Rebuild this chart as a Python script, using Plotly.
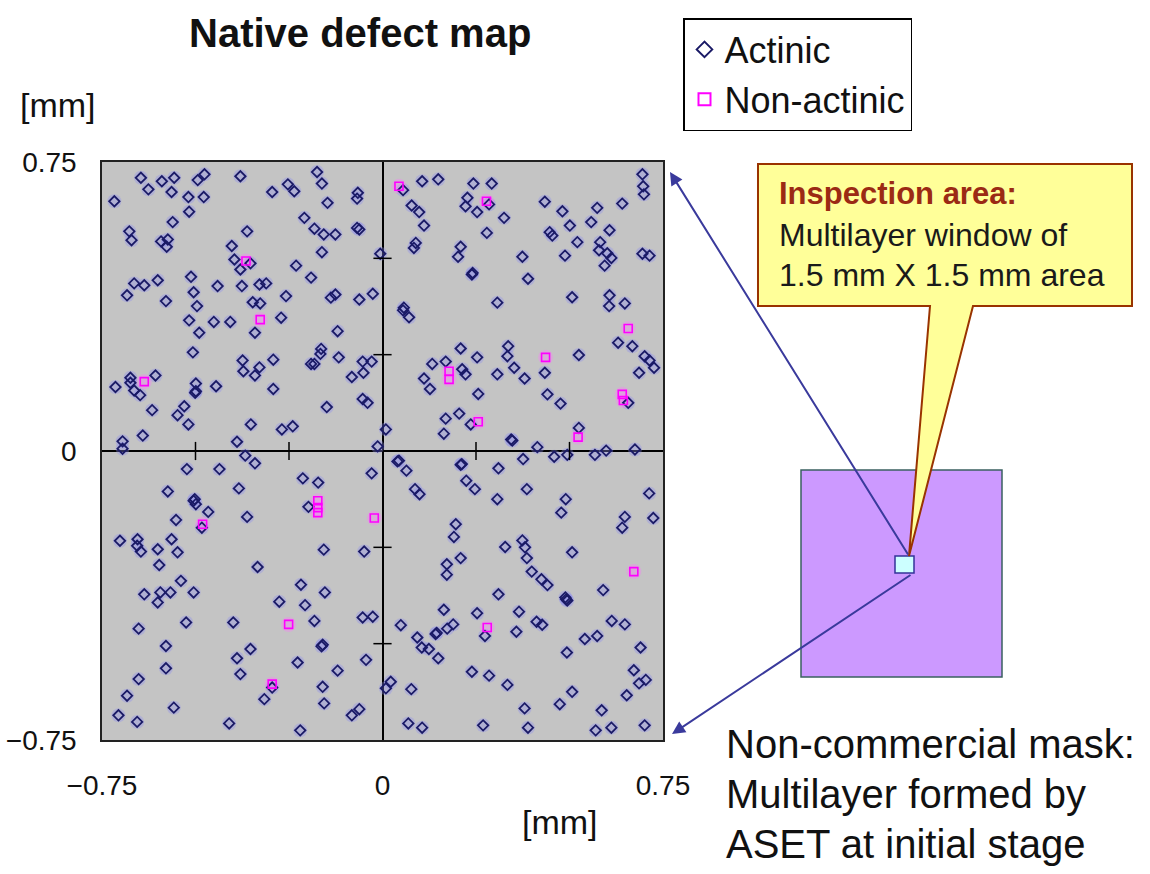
import plotly.graph_objects as go

# Defect positions on the 1.5 mm x 1.5 mm multilayer window, in mm
actinic_x = [
    -0.717, -0.646, -0.626, -0.590, -0.557, -0.564, -0.494, -0.476, -0.519, -0.478,
    -0.517, -0.380, -0.561, -0.677, -0.671, -0.592, -0.574, -0.577, -0.362, -0.403,
    -0.396, -0.380, -0.353, -0.295, -0.253, -0.236, -0.175, -0.162, -0.147, -0.066,
    -0.068, -0.209, -0.182, -0.157, -0.126, -0.068, -0.062, -0.162, -0.006, -0.231,
    -0.191, -0.664, -0.637, -0.601, -0.683, -0.579, -0.512, -0.505, -0.496, -0.441,
    -0.376, -0.329, -0.311, -0.347, -0.327, -0.258, -0.138, -0.126, -0.062, -0.026,
    -0.517, -0.451, -0.407, -0.271, -0.490, -0.341, -0.120, -0.507, -0.374, -0.372,
    -0.329, -0.341, -0.292, -0.164, -0.166, -0.182, -0.191, -0.117, -0.053, -0.029,
    -0.051, -0.082, -0.607, -0.674, -0.674, -0.664, -0.648, -0.714, -0.499, -0.501,
    -0.499, -0.445, -0.292, -0.616, -0.530, -0.548, -0.519, -0.352, -0.269, -0.240,
    -0.149, -0.053, -0.040, -0.641, -0.695, -0.695, -0.389, -0.013,
    0.055, 0.106, 0.149, 0.243, 0.292, 0.227, 0.222, 0.285, 0.253, 0.325,
    0.078, 0.098, 0.111, 0.279, 0.089, 0.084, 0.209, 0.202, 0.239, 0.241,
    0.374, 0.389, 0.307, 0.057, 0.434, 0.481, 0.501, 0.447, 0.454, 0.521,
    0.488, 0.558, 0.574, 0.607, 0.641, 0.582, 0.579, 0.601, 0.612, 0.594,
    0.695, 0.697, 0.699, 0.695, 0.714, 0.507, 0.607, 0.606, 0.648, 0.055,
    0.071, 0.630, 0.668, 0.701, 0.714, 0.726, 0.686, 0.209, 0.336, 0.334,
    0.253, 0.525, 0.133, 0.169, 0.213, 0.222, 0.111, 0.127, 0.307, 0.352,
    0.380, 0.434, 0.256, 0.441, 0.476, 0.657, 0.169, 0.205, 0.236, 0.164,
    0.009, 0.344, 0.347, 0.414, 0.525, 0.598, 0.675,
    -0.367, -0.341, -0.523, -0.436, -0.574, -0.505, -0.502, -0.499, -0.384, -0.466,
    -0.483, -0.552, -0.362, -0.213, -0.172, -0.198, -0.029, -0.702, -0.655, -0.656,
    -0.646, -0.564, -0.601, -0.548, -0.597, -0.334, -0.157, -0.049, -0.539, -0.637,
    -0.594, -0.567, -0.505, -0.218, -0.154, -0.601, -0.276, -0.207, -0.182, -0.053,
    -0.026, -0.652, -0.525, -0.399, -0.579, -0.353, -0.389, -0.163, -0.160, -0.227,
    -0.044, -0.120, -0.579, -0.380, -0.652, -0.295, -0.316, -0.160, -0.156, -0.683,
    -0.558, -0.706, -0.656, -0.410, -0.220, -0.082, -0.062,
    0.376, 0.459, 0.494, 0.568, 0.040, 0.044, 0.064, 0.209, 0.212, 0.310,
    0.224, 0.247, 0.087, 0.099, 0.386, 0.307, 0.490, 0.478, 0.713, 0.724,
    0.648, 0.641, 0.196, 0.191, 0.374, 0.381, 0.386, 0.328, 0.507, 0.209,
    0.172, 0.172, 0.399, 0.425, 0.441, 0.590, 0.310, 0.491, 0.489, 0.494,
    0.164, 0.253, 0.365, 0.049, 0.093, 0.142, 0.145, 0.173, 0.189, 0.274,
    0.358, 0.412, 0.427, 0.613, 0.648, 0.541, 0.574, 0.105, 0.124, 0.149,
    0.493, 0.690, 0.239, 0.285, 0.334, 0.672, 0.686, 0.704, 0.653, 0.507,
    0.474, 0.586, 0.380, 0.022, 0.009, 0.077, 0.069, 0.106, 0.269, 0.389,
    0.570, 0.612, 0.701,
]
actinic_y = [
    0.648, 0.709, 0.679, 0.700, 0.709, 0.672, 0.703, 0.718, 0.659, 0.659,
    0.621, 0.713, 0.594, 0.570, 0.547, 0.544, 0.549, 0.530, 0.570, 0.532,
    0.497, 0.471, 0.487, 0.672, 0.692, 0.674, 0.724, 0.694, 0.644, 0.670,
    0.655, 0.605, 0.577, 0.562, 0.562, 0.579, 0.575, 0.516, 0.512, 0.481,
    0.450, 0.435, 0.430, 0.443, 0.404, 0.389, 0.452, 0.412, 0.376, 0.428,
    0.428, 0.432, 0.435, 0.386, 0.383, 0.402, 0.398, 0.406, 0.393, 0.408,
    0.339, 0.335, 0.335, 0.346, 0.307, 0.307, 0.311, 0.256, 0.235, 0.207,
    0.217, 0.196, 0.237, 0.265, 0.252, 0.226, 0.226, 0.243, 0.232, 0.232,
    0.203, 0.192, 0.196, 0.190, 0.177, 0.157, 0.145, 0.166, 0.175, 0.151,
    0.155, 0.168, 0.161, 0.106, 0.116, 0.093, 0.069, 0.069, 0.056, 0.064,
    0.114, 0.135, 0.125, 0.040, 0.025, 0.006, 0.024, 0.012,
    0.677, 0.700, 0.705, 0.694, 0.694, 0.657, 0.635, 0.640, 0.620, 0.605,
    0.637, 0.620, 0.585, 0.566, 0.540, 0.527, 0.530, 0.504, 0.458, 0.462,
    0.504, 0.447, 0.385, 0.372, 0.647, 0.622, 0.585, 0.568, 0.559, 0.542,
    0.507, 0.594, 0.631, 0.573, 0.642, 0.542, 0.521, 0.513, 0.501, 0.481,
    0.718, 0.687, 0.666, 0.512, 0.507, 0.399, 0.404, 0.376, 0.383, 0.365,
    0.347, 0.281, 0.272, 0.246, 0.235, 0.216, 0.203, 0.266, 0.272, 0.246,
    0.243, 0.249, 0.226, 0.232, 0.212, 0.199, 0.188, 0.161, 0.199, 0.216,
    0.188, 0.203, 0.148, 0.147, 0.123, 0.125, 0.084, 0.097, 0.069, 0.045,
    0.056, 0.030, 0.027, 0.010, 0.060, 0.001, 0.004,
    -0.012, -0.032, -0.047, -0.047, -0.105, -0.129, -0.125, -0.138, -0.097, -0.158,
    -0.199, -0.179, -0.171, -0.071, -0.082, -0.145, -0.058, -0.233, -0.229, -0.246,
    -0.261, -0.229, -0.255, -0.263, -0.296, -0.301, -0.256, -0.261, -0.337, -0.372,
    -0.367, -0.367, -0.367, -0.347, -0.367, -0.393, -0.391, -0.400, -0.441, -0.432,
    -0.430, -0.461, -0.445, -0.445, -0.506, -0.514, -0.538, -0.507, -0.503, -0.549,
    -0.542, -0.570, -0.564, -0.579, -0.592, -0.614, -0.644, -0.612, -0.655, -0.635,
    -0.666, -0.686, -0.703, -0.707, -0.725, -0.686, -0.670,
    -0.021, -0.015, -0.010, -0.010, -0.027, -0.025, -0.051, -0.036, -0.034, -0.045,
    -0.077, -0.099, -0.099, -0.112, -0.099, -0.125, -0.125, -0.160, -0.110, -0.174,
    -0.171, -0.199, -0.190, -0.223, -0.232, -0.250, -0.278, -0.249, -0.263, -0.278,
    -0.294, -0.321, -0.313, -0.333, -0.348, -0.361, -0.372, -0.385, -0.380, -0.388,
    -0.412, -0.421, -0.417, -0.452, -0.484, -0.475, -0.472, -0.461, -0.450, -0.480,
    -0.469, -0.443, -0.451, -0.441, -0.450, -0.488, -0.480, -0.510, -0.514, -0.538,
    -0.523, -0.510, -0.573, -0.583, -0.607, -0.569, -0.603, -0.594, -0.634, -0.625,
    -0.657, -0.673, -0.668, -0.599, -0.616, -0.618, -0.707, -0.718, -0.712, -0.718,
    -0.725, -0.718, -0.712,
]

non_actinic_x = [
    -0.365, -0.327, -0.637, 0.044, 0.278, 0.657, 0.436, 0.178, 0.178, 0.641,
    0.644, 0.256, 0.523, -0.481, -0.173, -0.173, -0.173, -0.022, -0.251, -0.295,
    0.672, 0.280,
]
non_actinic_y = [
    0.493, 0.341, 0.180, 0.687, 0.648, 0.318, 0.243, 0.207, 0.186, 0.147,
    0.131, 0.076, 0.036, -0.190, -0.129, -0.147, -0.160, -0.174, -0.450, -0.605,
    -0.313, -0.458,
]

# Minor tick marks on the centre cross
cross_ticks = [-0.5, -0.25, 0.25, 0.5]

axis_ticks = [-0.75, 0, 0.75]
axis_tick_text = ["\u22120.75", "0", "0.75"]

FONT = "Liberation Sans, Arial, sans-serif"
W, H = 1150, 874


def fx(x):
    """Canvas pixel column -> paper fraction."""
    return x / W


def fy(y):
    """Canvas pixel row -> paper fraction (measured from the top)."""
    return 1 - y / H


fig = go.Figure()

# soft glow under the markers
fig.add_trace(go.Scatter(
    x=actinic_x, y=actinic_y, mode="markers", showlegend=False, hoverinfo="skip",
    marker=dict(symbol="circle", size=14, color="rgba(140,140,240,0.35)", line=dict(width=0)),
))
fig.add_trace(go.Scatter(
    x=non_actinic_x, y=non_actinic_y, mode="markers", showlegend=False, hoverinfo="skip",
    marker=dict(symbol="circle", size=15, color="rgba(255,120,255,0.35)", line=dict(width=0)),
))

fig.add_trace(go.Scatter(
    x=actinic_x, y=actinic_y, mode="markers", name="Actinic",
    marker=dict(symbol="diamond-open", size=8, color="#1a1a66", line=dict(width=1.8, color="#1a1a66")),
))
fig.add_trace(go.Scatter(
    x=non_actinic_x, y=non_actinic_y, mode="markers", name="Non-actinic",
    marker=dict(symbol="square-open", size=8, color="#ff00ff", line=dict(width=1.6, color="#ff00ff")),
))

# cross ticks along the zero lines
fig.add_trace(go.Scatter(
    x=cross_ticks, y=[0] * len(cross_ticks), mode="markers", showlegend=False, hoverinfo="skip",
    marker=dict(symbol="line-ns", size=13, line=dict(width=1.5, color="black")),
))
fig.add_trace(go.Scatter(
    x=[0] * len(cross_ticks), y=cross_ticks, mode="markers", showlegend=False, hoverinfo="skip",
    marker=dict(symbol="line-ew", size=13, line=dict(width=1.5, color="black")),
))

axis_common = dict(
    range=[-0.75, 0.75], tickvals=axis_ticks, ticktext=axis_tick_text,
    showgrid=False, zeroline=True, zerolinecolor="black", zerolinewidth=1.5,
    showline=True, linecolor="#222", linewidth=1.5, mirror=True, automargin=False,
    ticks="", tickfont=dict(family=FONT, size=28, color="#111"), fixedrange=True,
)

fig.update_layout(
    width=W, height=874, autosize=False,
    margin=dict(l=0, r=0, t=0, b=0, autoexpand=False),
    paper_bgcolor="white", plot_bgcolor="#c4c4c4",
    hovermode=False,
    xaxis=dict(domain=[fx(102), fx(663)], ticklabelstandoff=20, **axis_common),
    yaxis=dict(domain=[fy(740), fy(162)], ticklabelstandoff=18, **axis_common),
    legend=dict(
        x=fx(683), y=fy(18), xanchor="left", yanchor="top",
        bgcolor="white", bordercolor="black", borderwidth=1.5,
        font=dict(family=FONT, size=36, color="#111"),
        itemsizing="constant", tracegroupgap=0,
    ),
)

annotations = [
    dict(text="<b>Native defect map</b>", x=fx(360), y=fy(33),
         font=dict(size=40, color="#111")),
    dict(text="[mm]", x=fx(58), y=fy(105), font=dict(size=34, color="#111")),
    dict(text="[mm]", x=fx(560), y=fy(822), font=dict(size=34, color="#111")),
    dict(text="Non-commercial mask:", x=fx(724), y=fy(744), xanchor="left",
         font=dict(size=40, color="#111")),
    dict(text="Multilayer formed by", x=fx(724), y=fy(794), xanchor="left",
         font=dict(size=40, color="#111")),
    dict(text="ASET at initial stage", x=fx(724), y=fy(844), xanchor="left",
         font=dict(size=40, color="#111")),
    dict(text="<b>Inspection area:</b>", x=fx(777), y=fy(193), xanchor="left",
         font=dict(size=31, color="#9b2a14")),
    dict(text="Multilayer window of", x=fx(777), y=fy(235), xanchor="left",
         font=dict(size=32, color="#1a1a1a")),
    dict(text="1.5 mm X 1.5 mm area", x=fx(777), y=fy(275), xanchor="left",
         font=dict(size=32, color="#1a1a1a")),
]
for a in annotations:
    a.setdefault("xanchor", "center")
    a.update(xref="paper", yref="paper", yanchor="middle", showarrow=False)
    a["font"]["family"] = FONT
    fig.add_annotation(**a)

# arrows from the inspection window out to the map corners
for tip, tail in [((670, 172), (909, 556)), ((672, 734), (912, 574))]:
    fig.add_annotation(
        x=fx(tip[0]), y=fy(tip[1]), xref="paper", yref="paper",
        ax=tail[0] - tip[0], ay=tail[1] - tip[1], axref="pixel", ayref="pixel",
        text="", showarrow=True, arrowhead=2, arrowsize=1.3, arrowwidth=2,
        arrowcolor="#3a3a9c", standoff=0, startstandoff=0,
    )

# mask square and the inspection window on it
fig.add_shape(type="rect", xref="paper", yref="paper",
              x0=fx(801), x1=fx(1002), y0=fy(677), y1=fy(470),
              fillcolor="#cc99ff", line=dict(color="#3a6060", width=1.5), layer="above")
fig.add_shape(type="rect", xref="paper", yref="paper",
              x0=fx(895), x1=fx(914), y0=fy(573), y1=fy(556),
              fillcolor="#ccffff", line=dict(color="#333399", width=1.5), layer="above")

# callout box with its pointer
callout = [(758, 164), (1132, 164), (1132, 306), (973, 306), (909, 556), (930, 306), (758, 306)]
path = "M " + " L ".join(f"{fx(x):.5f},{fy(y):.5f}" for x, y in callout) + " Z"
fig.add_shape(type="path", xref="paper", yref="paper", path=path,
              fillcolor="#ffff99", line=dict(color="#993300", width=2), layer="above")

fig.write_html("out.html")
